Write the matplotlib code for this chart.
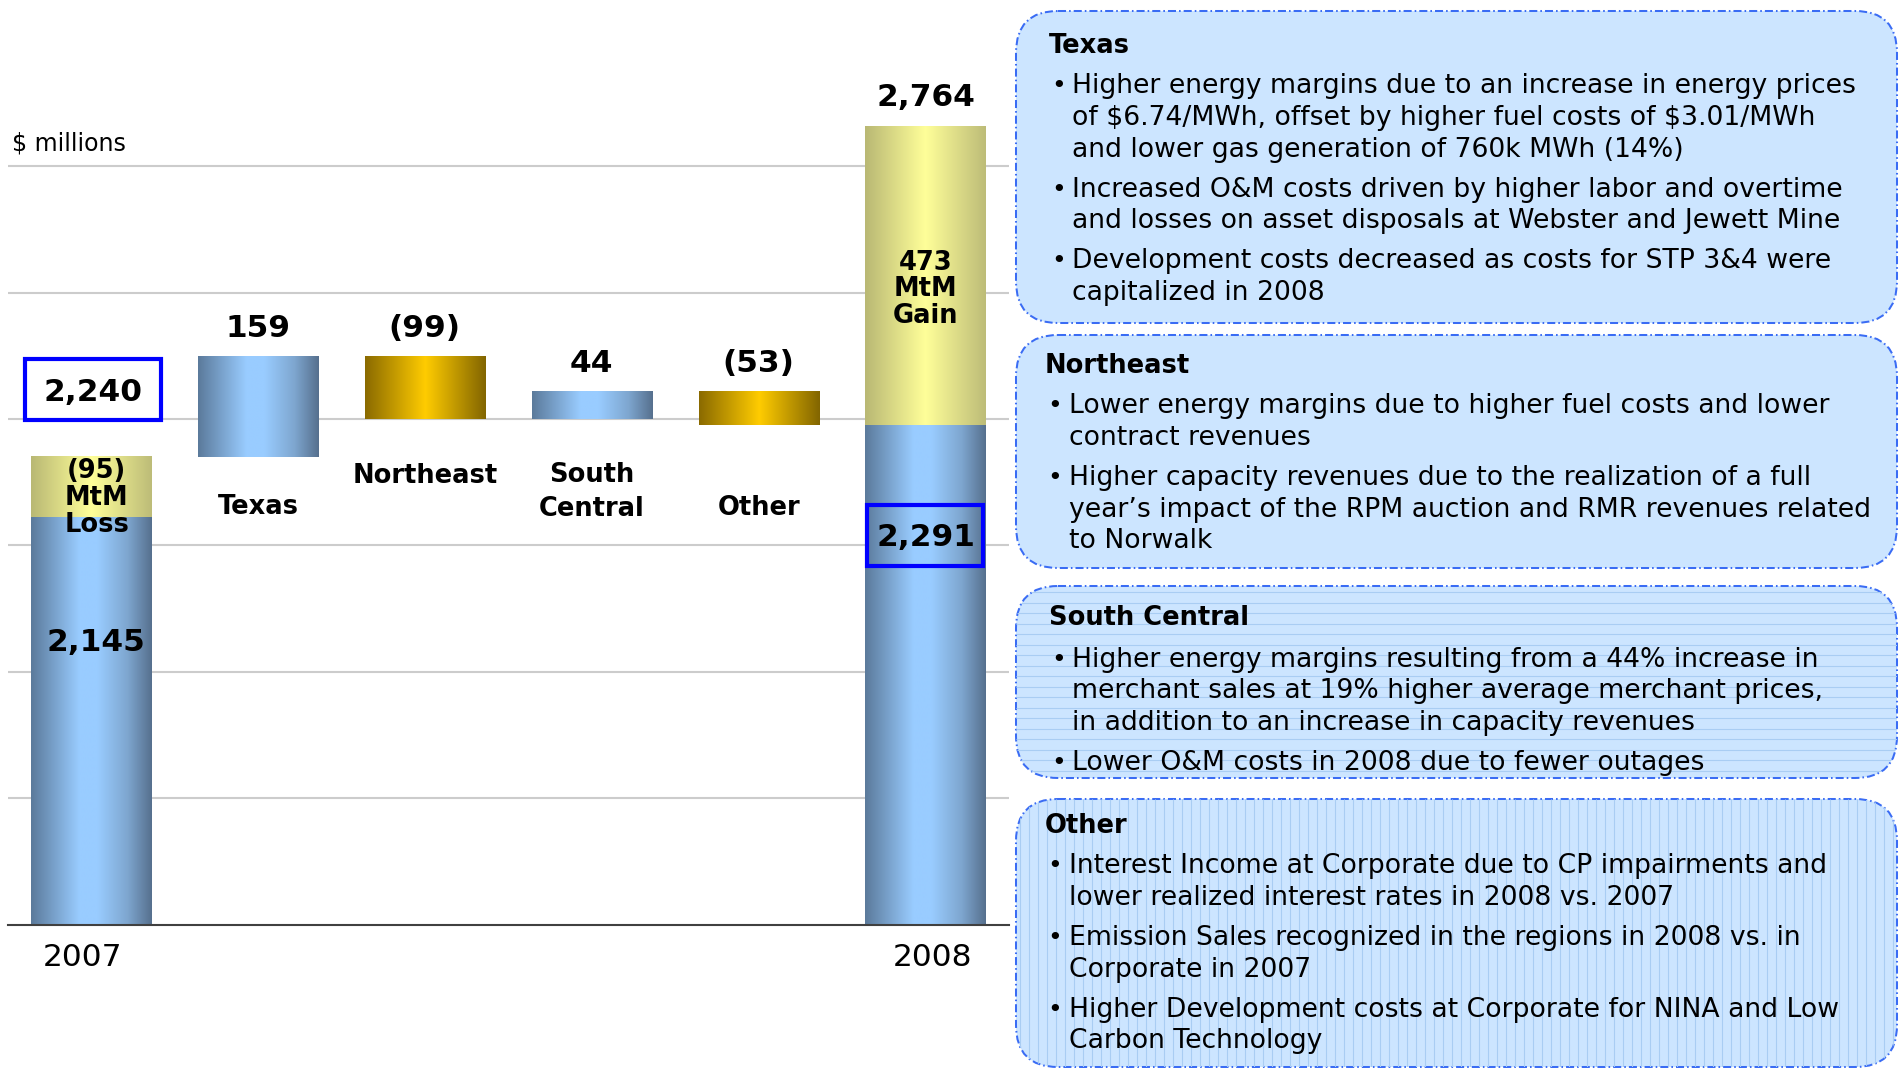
import numpy as np
import matplotlib
matplotlib.use("Agg")
import matplotlib.pyplot as plt
from matplotlib.colors import LinearSegmentedColormap
from matplotlib.patches import FancyBboxPatch, Rectangle
from matplotlib.collections import LineCollection

plt.rcParams['font.family'] = ['DejaVu Sans']

# ---------------------------------------------------------------- data ($ millions)
steps = ['2007', 'Texas', 'Northeast', 'South\nCentral', 'Other', '2008']
base_2007 = 2145          # 2007 excluding MtM
mtm_2007 = 95             # MtM loss added back on top of the 2007 bar
region_changes = [159, -99, 44, -53]
mtm_2008 = 473            # MtM gain on top of the 2008 bar
grid_values = [1700, 1900, 2100, 2300, 2500, 2700]

# ---------------------------------------------------------------- commentary
notes = [
    ("Texas", [
        ["Higher energy margins due to an increase in energy prices",
         "of $6.74/MWh, offset by higher fuel costs of $3.01/MWh",
         "and lower gas generation of 760k MWh (14%)"],
        ["Increased O&M costs driven by higher labor and overtime",
         "and losses on asset disposals at Webster and Jewett Mine"],
        ["Development costs decreased as costs for STP 3&4 were",
         "capitalized in 2008"],
    ]),
    ("Northeast", [
        ["Lower energy margins due to higher fuel costs and lower",
         "contract revenues"],
        ["Higher capacity revenues due to the realization of a full",
         "year\u2019s impact of the RPM auction and RMR revenues related",
         "to Norwalk"],
    ]),
    ("South Central", [
        ["Higher energy margins resulting from a 44% increase in",
         "merchant sales at 19% higher average merchant prices,",
         "in addition to an increase in capacity revenues"],
        ["Lower O&M costs in 2008 due to fewer outages"],
    ]),
    ("Other", [
        ["Interest Income at Corporate due to CP impairments and",
         "lower realized interest rates in 2008 vs. 2007"],
        ["Emission Sales recognized in the regions in 2008 vs. in",
         "Corporate in 2007"],
        ["Higher Development costs at Corporate for NINA and Low",
         "Carbon Technology"],
    ]),
]

# ---------------------------------------------------------------- derived values
total_2007 = base_2007 + mtm_2007
level = total_2007
seg_bottom, seg_height, seg_kind = [], [], []
for d in region_changes:
    seg_bottom.append(min(level, level + d))
    seg_height.append(abs(d))
    seg_kind.append('up' if d > 0 else 'down')
    level += d
base_2008 = level
total_2008 = base_2008 + mtm_2008


def fmt_change(v):
    return f"{v:,}" if v >= 0 else f"({-v:,})"


# ---------------------------------------------------------------- figure
W, H = 1904, 1068
fig = plt.figure(figsize=(W / 100, H / 100), dpi=100)
fig.patch.set_facecolor('white')

baseline_px = 924.5
px_per_unit = 0.632
y_lo, y_hi = 1500, 2950
ax_h = (y_hi - y_lo) * px_per_unit
ax = fig.add_axes([7.5 / W, (H - baseline_px) / H, 1001.5 / W, ax_h / H])

blue = LinearSegmentedColormap.from_list(
    'blue', [(0, '#5b7a9b'), (0.4, '#99ccff'), (0.55, '#99ccff'),
             (0.8, '#7ea6cf'), (1, '#56708e')])
gold = LinearSegmentedColormap.from_list(
    'gold', [(0, '#8a6a00'), (0.5, '#ffcc00'), (1, '#826500')])
pale = LinearSegmentedColormap.from_list(
    'pale', [(0, '#b9b874'), (0.5, '#ffff99'), (1, '#bdbc78')])

x = np.arange(len(steps))
bw = 0.72


def gradient_fill(patches, cmap):
    # horizontal shading across each bar, limited to the visible value range
    ramp = np.linspace(0, 1, 256).reshape(1, -1)
    for p in patches:
        x0, y0 = p.get_x(), p.get_y()
        y1 = y0 + p.get_height()
        ax.imshow(ramp, cmap=cmap, aspect='auto', interpolation='bilinear',
                  extent=[x0, x0 + p.get_width(), max(y0, y_lo), y1],
                  zorder=2)


bar_kw = dict(width=bw, facecolor='none', linewidth=0, zorder=2)
totals_base = ax.bar([x[0], x[-1]], [base_2007, base_2008], **bar_kw)
totals_mtm = ax.bar([x[0], x[-1]], [mtm_2007, mtm_2008],
                    bottom=[base_2007, base_2008], **bar_kw)
region_bars = ax.bar(x[1:-1], seg_height, bottom=seg_bottom, **bar_kw)

gradient_fill(totals_base, blue)
gradient_fill(totals_mtm, pale)
gradient_fill([b for b, k in zip(region_bars, seg_kind) if k == 'up'], blue)
gradient_fill([b for b, k in zip(region_bars, seg_kind) if k == 'down'], gold)

ax.set_xlim(-0.5, 5.5)
ax.set_ylim(y_lo, y_hi)
ax.set_yticks(grid_values)
ax.yaxis.grid(True, color='#cccccc', linewidth=1.5, zorder=0)
ax.set_axisbelow(True)
ax.tick_params(left=False, bottom=False, labelleft=False, labelbottom=False)
for s in ['top', 'left', 'right']:
    ax.spines[s].set_visible(False)
ax.spines['bottom'].set_color('#404040')
ax.spines['bottom'].set_linewidth(1.5)
ax.spines['bottom'].set_zorder(3)

val_kw = dict(ha='center', va='center', fontsize=22.5, fontweight='bold',
              zorder=4, parse_math=False)
seg_tops = [b + h for b, h in zip(seg_bottom, seg_height)]
for xi, top, d in zip(x[1:-1], seg_tops, region_changes):
    ax.annotate(fmt_change(d), (xi, top), xytext=(0, 20),
                textcoords='offset points', **val_kw)
ax.annotate(f"{total_2008:,}", (x[-1], total_2008), xytext=(0, 20),
            textcoords='offset points', **val_kw)

# 2007 total in a framed label above the bar
ax.add_patch(Rectangle((-0.395, 2298), 0.813, 97, facecolor='white',
                       edgecolor='#0000ff', linewidth=3, zorder=4))
ax.text(0.01, 2342, f"{total_2007:,}", **val_kw)
ax.text(0.03, 1946, f"{base_2007:,}", **val_kw)
ax.text(0.035, 2175, f"({mtm_2007})\nMtM\nLoss", ha='center', va='center',
        fontsize=18.5, fontweight='bold', linespacing=1.04, zorder=4)

# 2008 values
ax.text(x[-1], 2505, f"{mtm_2008}\nMtM\nGain", ha='center', va='center',
        fontsize=18.5, fontweight='bold', linespacing=1.04, zorder=4)
ax.add_patch(Rectangle((4.65, 2068), 0.695, 95, facecolor='none',
                       edgecolor='#0000ff', linewidth=3, zorder=4))
ax.text(x[-1], 2113, f"{base_2008:,}", **val_kw)

# category names under the floating bars
cat_y = [2160, 2210, 2184, 2159]
cat_ls = [1.2, 1.2, 1.40, 1.2]
for xi, name, yy, ls in zip(x[1:-1], steps[1:-1], cat_y, cat_ls):
    ax.text(xi, yy, name, ha='center', va='center', fontsize=18.5,
            fontweight='bold', linespacing=ls, zorder=4)

# year labels below the baseline
ax.text(x[0] - 0.048, 1448, steps[0], ha='center', va='center', fontsize=22.5,
        clip_on=False)
ax.text(x[-1] + 0.04, 1448, steps[-1], ha='center', va='center', fontsize=22.5,
        clip_on=False)

# ---------------------------------------------------------------- overlay in pixel units
ov = fig.add_axes([0, 0, 1, 1], zorder=5)
ov.set_xlim(0, W)
ov.set_ylim(H, 0)
ov.axis('off')
ov.patch.set_alpha(0)

ov.text(12, 150, "$ millions", fontsize=17, va='baseline', ha='left',
        parse_math=False)

box_left, box_right = 1016, 1897
box_geom = [  # top, bottom, heading x, heading baseline, bullet x, text x, first baseline, stripes
    (11, 323, 1049, 52.7, 1051, 1071.6, 93.3, None),
    (335, 568, 1045, 373.3, 1047, 1068.7, 413.3, None),
    (586, 778, 1049, 625, 1051, 1071.6, 666.7, 'h'),
    (799, 1067, 1045, 833.3, 1047, 1068.7, 873.3, 'v'),
]
line_gap = 31.7
para_gap = 8.3

for (title, paras), (top, bot, hx, hy, bx, tx, y0, stripes) in zip(notes, box_geom):
    box = FancyBboxPatch((box_left, top), box_right - box_left, bot - top,
                         boxstyle="round,pad=0,rounding_size=42",
                         facecolor='#cce5ff', edgecolor='#3a6cf4',
                         linewidth=1.45, linestyle=(0, (4, 1.5, 0.8, 1.5)),
                         zorder=1)
    ov.add_patch(box)
    if stripes == 'h':
        segs = [[(box_left, yy), (box_right, yy)]
                for yy in np.arange(top + 6, bot, 10.5)]
    elif stripes == 'v':
        segs = [[(xx, top), (xx, bot)]
                for xx in np.arange(box_left + 4, box_right, 9)]
    else:
        segs = []
    if segs:
        lc = LineCollection(segs, colors='#a9cdf3', linewidths=0.8, zorder=1.5)
        ov.add_collection(lc)
        lc.set_clip_path(box)

    ov.text(hx, hy, title, fontsize=18.5, fontweight='bold', va='baseline',
            ha='left', zorder=3)
    yy = y0
    for para in paras:
        ov.text(bx, yy, "\u2022", fontsize=18, va='baseline', ha='left',
                zorder=3)
        for line in para:
            ov.text(tx, yy, line, fontsize=19.2, va='baseline', ha='left',
                    zorder=3, parse_math=False)
            yy += line_gap
        yy += para_gap

fig.savefig("out.png", dpi=100, facecolor='white')
